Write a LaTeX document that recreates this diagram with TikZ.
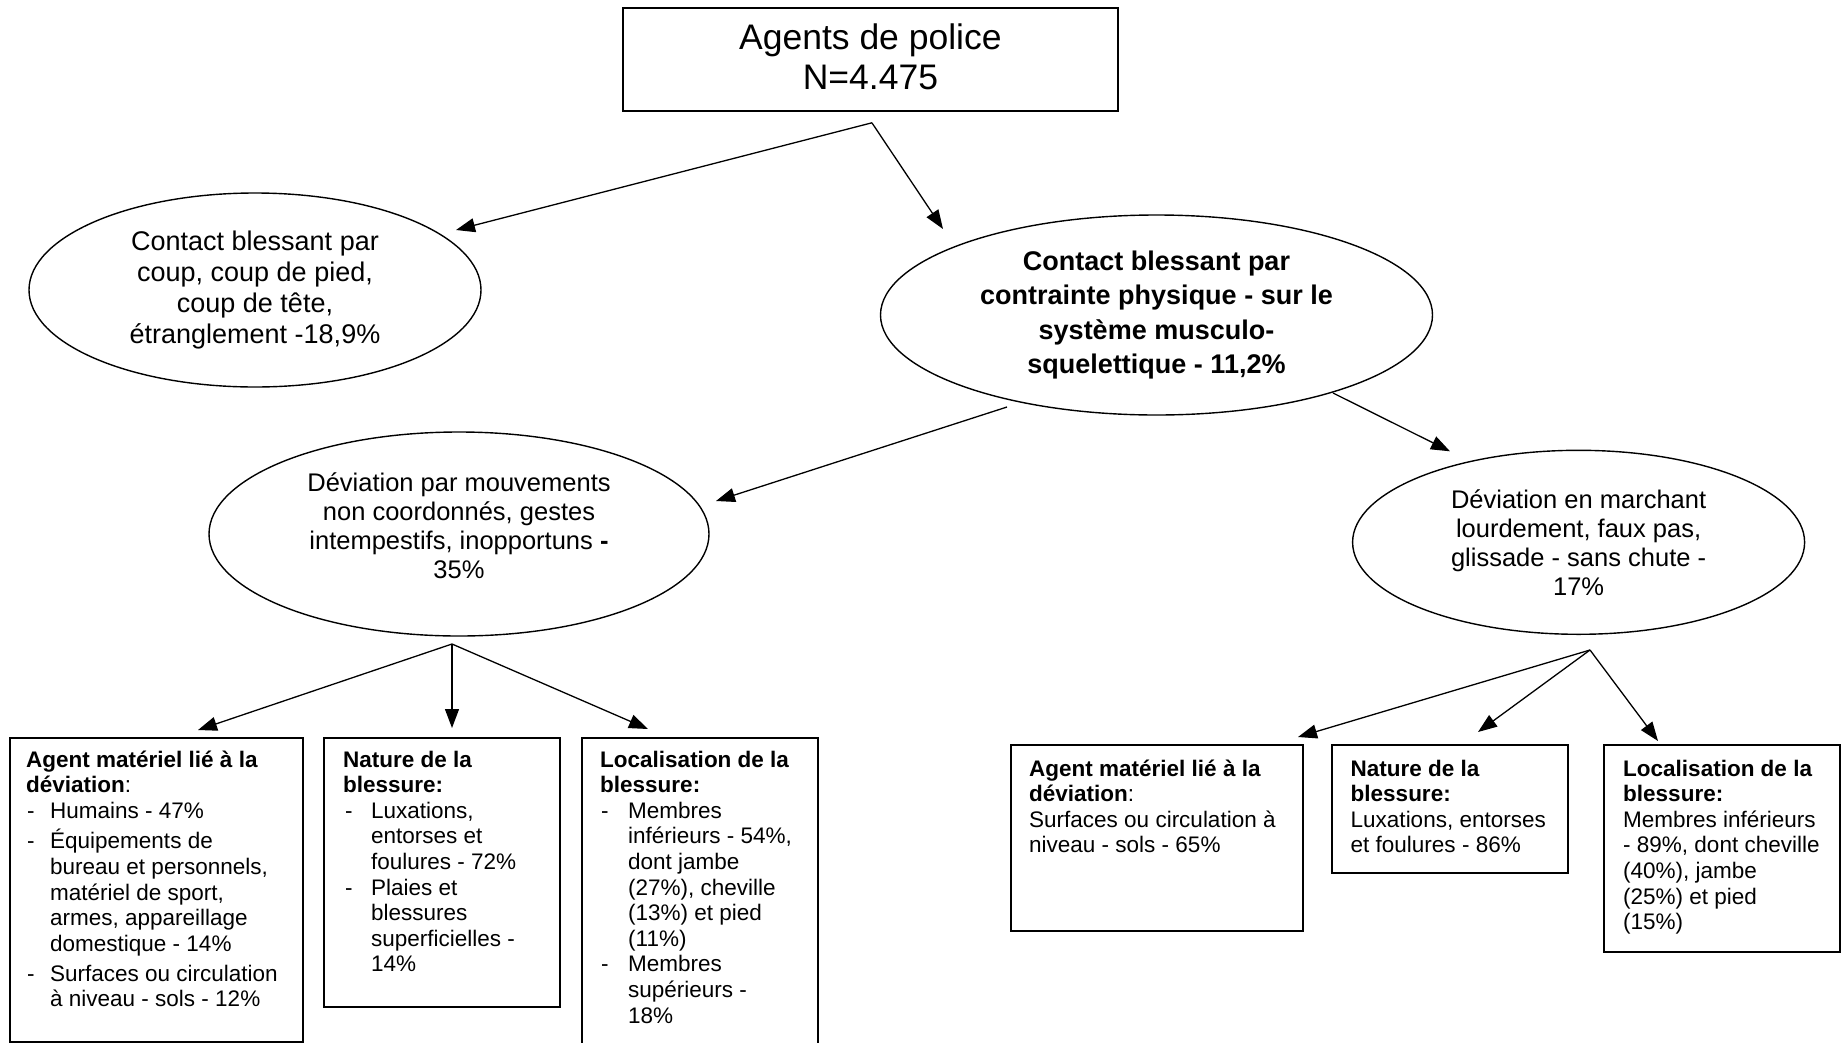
\documentclass[tikz,border=0pt]{standalone}
\usepackage{fontspec}
\setmainfont{Liberation Sans}
\usetikzlibrary{shapes.geometric,arrows.meta}

% font sizes used in the chart
\newcommand\topfont{\fontsize{35.5}{40}\selectfont}
\newcommand\ellfont{\fontsize{27}{31}\selectfont}
\newcommand\ellboldfont{\bfseries\fontsize{27}{34.5}\selectfont}
\newcommand\devfont{\fontsize{25.5}{29}\selectfont}
\newcommand\boxfont{\fontsize{22.5}{25.6}\selectfont}
% list items inside the boxes: dash, then indented text
\newcommand\lead[2]{\hspace*{#1}\makebox[#2][l]{-}}
\newcommand\cont[1]{\hspace*{#1}}

\begin{document}
\begin{tikzpicture}[x=1pt,y=-1pt,
  framebox/.style={draw, line width=1.8pt, rectangle, inner sep=0pt, anchor=north west},
  ell/.style={draw, ellipse, line width=1.4pt, inner sep=0pt, align=center},
  boxtext/.style={anchor=base west, inner sep=0pt, font=\boxfont},
  arr/.style={-{Triangle[length=19pt,width=14pt]}, line width=1.3pt}]

\fill[white] (0,0) rectangle (1841,1042);
\useasboundingbox (0,0) rectangle (1841,1042);

% root
\node[framebox, minimum width=495pt, minimum height=103pt, align=center, font=\topfont,
  text depth=5pt] (top) at (622,7) {Agents de police\\N=4.475};

% first level
\node[ell, minimum width=452pt, minimum height=194pt, font=\ellfont] (e1) at (255,290)
  {Contact blessant par\\coup, coup de pied,\\coup de tête,\\étranglement -18,9\%};
\node[ell, minimum width=552pt, minimum height=200pt, font=\ellboldfont] (e2) at (1156.5,315)
  {Contact blessant par\\contrainte physique - sur le\\système musculo-\\squelettique - 11,2\%};

% second level
\node[ell, minimum width=500pt, minimum height=204pt, font=\devfont, text depth=17pt] (e3) at (459,534)
  {Déviation par mouvements\\non coordonnés, gestes\\intempestifs, inopportuns \textbf{-}\\35\%};
\node[ell, minimum width=452pt, minimum height=184pt, font=\devfont] (e4) at (1578.6,542.3)
  {Déviation en marchant\\lourdement, faux pas,\\glissade - sans chute -\\17\%};

% detail boxes, left group
\node[framebox, minimum width=293pt, minimum height=304pt] (b1) at (9,737) {};
\node[framebox, minimum width=236pt, minimum height=269pt] (b2) at (323,737) {};
\node[framebox, minimum width=236pt, minimum height=330pt] (b3) at (581,737) {};

% detail boxes, right group
\node[framebox, minimum width=292pt, minimum height=186pt] (b4) at (1010,744) {};
\node[framebox, minimum width=236pt, minimum height=128pt] (b5) at (1331,744) {};
\node[framebox, minimum width=236pt, minimum height=207pt] (b6) at (1603,744) {};

\node[boxtext] (t1) at ([xshift=17pt,yshift=-30pt]b1.north west) {\parbox[t]{280pt}{%
  \textbf{Agent matériel lié à la}\\
  \textbf{déviation}:\\
  \lead{1pt}{23pt}Humains - 47\%\\[5pt]
  \lead{1pt}{23pt}Équipements de\\
  \cont{24pt}bureau et personnels,\\
  \cont{24pt}matériel de sport,\\
  \cont{24pt}armes, appareillage\\
  \cont{24pt}domestique - 14\%\\[4.5pt]
  \lead{1pt}{23pt}Surfaces ou circulation\\
  \cont{24pt}à niveau - sols - 12\%}};

\node[boxtext] (t2) at ([xshift=20pt,yshift=-30pt]b2.north west) {\parbox[t]{220pt}{%
  \textbf{Nature de la}\\
  \textbf{blessure:}\\
  \lead{2pt}{26pt}Luxations,\\
  \cont{28pt}entorses et\\
  \cont{28pt}foulures - 72\%\\
  \lead{2pt}{26pt}Plaies et\\
  \cont{28pt}blessures\\
  \cont{28pt}superficielles -\\
  \cont{28pt}14\%}};

\node[boxtext] (t3) at ([xshift=19pt,yshift=-30pt]b3.north west) {\parbox[t]{220pt}{%
  \textbf{Localisation de la}\\
  \textbf{blessure:}\\
  \lead{1pt}{27pt}Membres\\
  \cont{28pt}inférieurs - 54\%,\\
  \cont{28pt}dont jambe\\
  \cont{28pt}(27\%), cheville\\
  \cont{28pt}(13\%) et pied\\
  \cont{28pt}(11\%)\\
  \lead{1pt}{27pt}Membres\\
  \cont{28pt}supérieurs -\\
  \cont{28pt}18\%}};

\node[boxtext] (t4) at ([xshift=19pt,yshift=-32pt]b4.north west) {\parbox[t]{280pt}{%
  \textbf{Agent matériel lié à la}\\
  \textbf{déviation}:\\
  Surfaces ou circulation à\\
  niveau - sols - 65\%}};

\node[boxtext] (t5) at ([xshift=19.5pt,yshift=-32pt]b5.north west) {\parbox[t]{220pt}{%
  \textbf{Nature de la}\\
  \textbf{blessure:}\\
  Luxations, entorses\\
  et foulures - 86\%}};

\node[boxtext] (t6) at ([xshift=20pt,yshift=-32pt]b6.north west) {\parbox[t]{220pt}{%
  \textbf{Localisation de la}\\
  \textbf{blessure:}\\
  Membres inférieurs\\
  - 89\%, dont cheville\\
  (40\%), jambe\\
  (25\%) et pied\\
  (15\%)}};

% connectors
\draw[arr] ([xshift=1.5pt,yshift=-11pt]top.south) -- ([xshift=201pt,yshift=60pt]e1.center);
\draw[arr] ([xshift=1.5pt,yshift=-11pt]top.south) -- ([xshift=-213.5pt,yshift=86pt]e2.center);

\draw[arr] ([xshift=-149.5pt,yshift=-92pt]e2.center) -- ([xshift=257pt,yshift=33pt]e3.center);
\draw[arr] ([xshift=176.5pt,yshift=-78pt]e2.center) -- ([xshift=-128.6pt,yshift=91pt]e4.center);

\draw[arr] ([xshift=-7pt,yshift=-110pt]e3.center) -- ([xshift=189pt,yshift=7pt]b1.north west);
\draw[arr] ([xshift=-7pt,yshift=-110pt]e3.center) -- ([xshift=129pt,yshift=9pt]b2.north west);
\draw[arr] ([xshift=-7pt,yshift=-110pt]e3.center) -- ([xshift=67pt,yshift=8pt]b3.north west);

\draw[arr] ([xshift=11.4pt,yshift=-107.7pt]e4.center) -- ([xshift=288pt,yshift=7pt]b4.north west);
\draw[arr] ([xshift=11.4pt,yshift=-107.7pt]e4.center) -- ([xshift=147pt,yshift=12pt]b5.north west);
\draw[arr] ([xshift=11.4pt,yshift=-107.7pt]e4.center) -- ([xshift=55pt,yshift=3pt]b6.north west);

\end{tikzpicture}
\end{document}
